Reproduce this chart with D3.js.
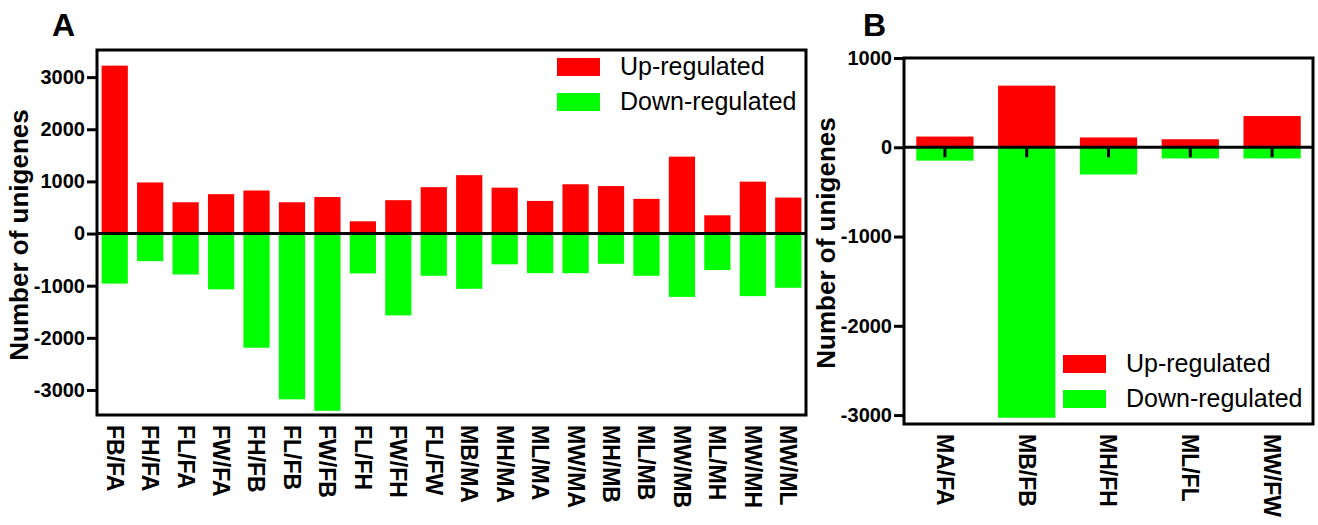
<!DOCTYPE html>
<meta charset="utf-8">
<style>

body {
  margin: 0;
  background-color: #fff;
  font-family: "Liberation Sans", Arial, sans-serif;
}

.axis text {
  font-weight: bold;
  fill: #000;
}

</style>
<body>

<div id="chart"></div>

<script src="https://d3js.org/d3.v7.min.js"></script>
<script>

// panel A: female / male comparisons
var catsA = ['FB/FA', 'FH/FA', 'FL/FA', 'FW/FA', 'FH/FB', 'FL/FB', 'FW/FB', 'FL/FH', 'FW/FH', 'FL/FW',
             'MB/MA', 'MH/MA', 'ML/MA', 'MW/MA', 'MH/MB', 'ML/MB', 'MW/MB', 'ML/MH', 'MW/MH', 'MW/ML'];
var upA   = [3220, 980, 600, 755, 825, 600, 700, 235, 640, 890,
             1120, 880, 625, 945, 910, 665, 1475, 350, 995, 690];
var downA = [-960, -530, -785, -1070, -2190, -3180, -3400, -765, -1570, -810,
             -1060, -590, -760, -760, -580, -810, -1215, -700, -1200, -1040];
var ticksA = [3000, 2000, 1000, 0, -1000, -2000, -3000];

// panel B: male vs female
var catsB = ['MA/FA', 'MB/FB', 'MH/FH', 'ML/FL', 'MW/FW'];
var upB   = [120, 690, 110, 90, 350];
var downB = [-150, -3030, -305, -125, -125];
var ticksB = [1000, 0, -1000, -2000, -3000];

var seriesNames = ['Up-regulated', 'Down-regulated'];
var seriesColors = ['#ff0000', '#00ff00'];

var svg = d3.select('#chart').append('svg')
    .attr('width', 1318)
    .attr('height', 525);

drawPanel({
  letter: 'A', letterX: 52, letterY: 36,
  left: 97, top: 50, right: 806, bottom: 415,
  domain: [-3480, 3520], ticks: ticksA,
  cats: catsA, up: upA, down: downA,
  padding: 0.26, zeroTicks: false,
  labelX: 28, labelY: 235,
  legendX: 557, legendY: 58
});

drawPanel({
  letter: 'B', letterX: 863, letterY: 36,
  left: 904, top: 58, right: 1313, bottom: 424,
  domain: [-3100, 1000], ticks: ticksB,
  cats: catsB, up: upB, down: downB,
  padding: 0.3, zeroTicks: true,
  labelX: 835, labelY: 243,
  legendX: 1063, legendY: 355
});


function drawPanel(p){
  var x = d3.scaleBand()
    .domain(p.cats)
    .range([p.left, p.right])
    .paddingInner(p.padding)
    .paddingOuter(p.padding / 2);

  var y = d3.scaleLinear()
    .domain(p.domain)
    .range([p.bottom, p.top]);

  var g = svg.append('g');

  // bars
  g.selectAll('.up')
    .data(p.cats)
    .enter().append('rect')
      .attr('x', function(d){ return x(d); })
      .attr('width', x.bandwidth())
      .attr('y', function(d, i){ return y(p.up[i]); })
      .attr('height', function(d, i){ return y(0) - y(p.up[i]); })
      .style('fill', seriesColors[0]);

  g.selectAll('.down')
    .data(p.cats)
    .enter().append('rect')
      .attr('x', function(d){ return x(d); })
      .attr('width', x.bandwidth())
      .attr('y', y(0))
      .attr('height', function(d, i){ return y(p.down[i]) - y(0); })
      .style('fill', seriesColors[1]);

  // zero line
  var zero = g.append('g')
    .attr('class', 'axis')
    .attr('transform', 'translate(0,' + y(0) + ')')
    .call(d3.axisBottom(x).tickSize(p.zeroTicks ? 10 : 0).tickFormat(''));
  zero.select('.domain').attr('stroke-width', 3).attr('d', 'M' + p.left + ',0H' + p.right);
  zero.selectAll('.tick line').attr('stroke-width', 3);

  // frame
  g.append('rect')
    .attr('x', p.left)
    .attr('y', p.top)
    .attr('width', p.right - p.left)
    .attr('height', p.bottom - p.top)
    .style('fill', 'none')
    .style('stroke', '#000')
    .style('stroke-width', 3);

  // y axis (plain hyphen for negatives, like the original)
  var yAxis = g.append('g')
    .attr('class', 'axis')
    .attr('transform', 'translate(' + p.left + ',0)')
    .call(d3.axisLeft(y).tickValues(p.ticks)
      .tickFormat(function(d){ return String(d); })
      .tickSize(10).tickPadding(2));
  yAxis.select('.domain').remove();
  yAxis.selectAll('.tick line').attr('stroke-width', 3);
  yAxis.selectAll('text').style('font-size', '20px');

  // x axis labels, rotated
  var xAxis = g.append('g')
    .attr('class', 'axis')
    .attr('transform', 'translate(0,' + p.bottom + ')')
    .call(d3.axisBottom(x).tickSize(0));
  xAxis.select('.domain').remove();
  xAxis.selectAll('text')
    .attr('transform', 'rotate(90)')
    .attr('x', 10)
    .attr('y', 0)
    .attr('dy', '0.35em')
    .style('text-anchor', 'start')
    .style('font-size', '23px');

  // axis title
  g.append('text')
    .attr('transform', 'translate(' + p.labelX + ',' + p.labelY + ') rotate(-90)')
    .style('text-anchor', 'middle')
    .style('font-weight', 'bold')
    .style('font-size', '26px')
    .text('Number of unigenes');

  // panel letter
  g.append('text')
    .attr('x', p.letterX)
    .attr('y', p.letterY)
    .style('font-weight', 'bold')
    .style('font-size', '32px')
    .text(p.letter);

  // legend
  var leg = g.append('g')
    .attr('transform', 'translate(' + p.legendX + ',' + p.legendY + ')');
  seriesNames.forEach(function(name, i){
    leg.append('rect')
      .attr('x', 0)
      .attr('y', i * 35)
      .attr('width', 43)
      .attr('height', 18)
      .style('fill', seriesColors[i]);
    leg.append('text')
      .attr('x', 63)
      .attr('y', i * 35 + 17)
      .style('font-size', '25px')
      .text(name);
  });
}

</script>
